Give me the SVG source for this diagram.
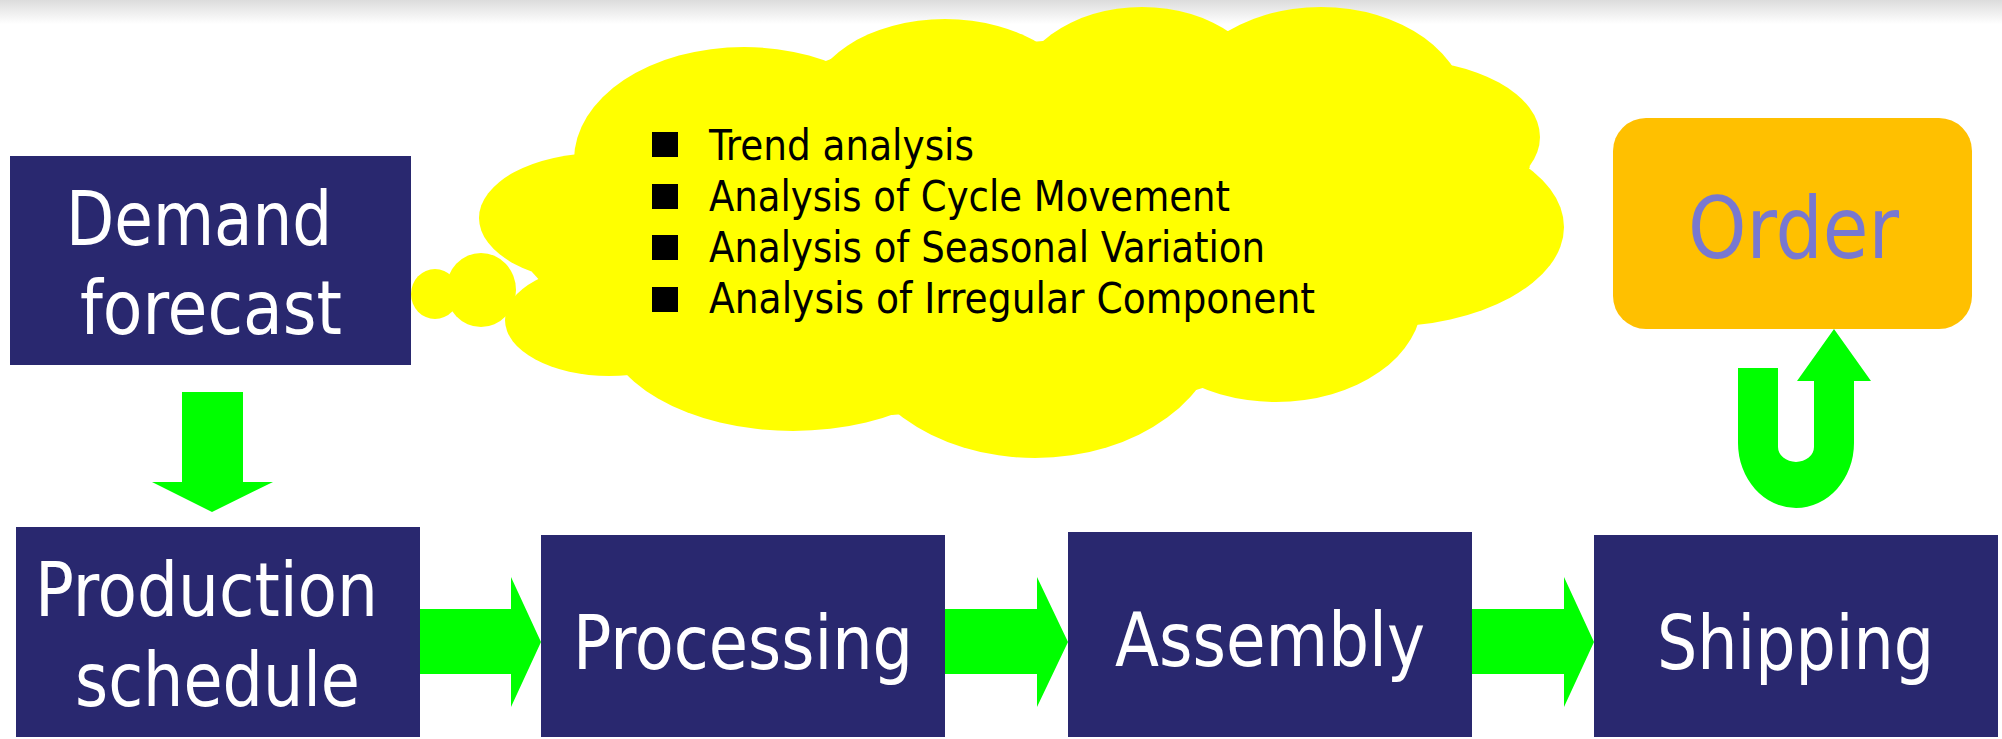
<svg xmlns="http://www.w3.org/2000/svg" width="2002" height="739" viewBox="0 0 2002 739">
<defs>
<linearGradient id="topband" x1="0" y1="0" x2="0" y2="1">
<stop offset="0" stop-color="#dcdcdc"/>
<stop offset="1" stop-color="#ffffff"/>
</linearGradient>
<style>
.box{fill:#29286f}
.lbl{font-family:"DejaVu Sans Condensed","DejaVu Sans",sans-serif;font-size:75px;fill:#ffffff}
.bul{font-family:"DejaVu Sans Condensed","DejaVu Sans",sans-serif;font-size:43px;fill:#000000}
.cloud{fill:#ffff00}
.arrow{fill:#00ff00}
</style>
</defs>
<rect x="0" y="0" width="2002" height="739" fill="#ffffff"/>
<rect x="0" y="0" width="2002" height="24" fill="url(#topband)"/>

<g id="cloud" class="cloud">
<ellipse cx="435" cy="294" rx="24" ry="25"/>
<ellipse cx="481" cy="290" rx="35" ry="37"/>
<polygon points="532,272 576,157 831,59 1043,41 1228,31 1441,63 1530,167 1419,321 1196,390 892,415 624,373"/>
<ellipse cx="600" cy="218" rx="121" ry="65"/>
<ellipse cx="744" cy="160" rx="170" ry="113"/>
<ellipse cx="945" cy="110" rx="138" ry="91"/>
<ellipse cx="1142" cy="100" rx="128" ry="93"/>
<ellipse cx="1321" cy="112" rx="146" ry="105"/>
<ellipse cx="1400" cy="137" rx="140" ry="77"/>
<ellipse cx="1380" cy="227" rx="184" ry="100"/>
<ellipse cx="1276" cy="300" rx="146" ry="102"/>
<ellipse cx="1035" cy="320" rx="187" ry="138"/>
<ellipse cx="793" cy="320" rx="191" ry="111"/>
<ellipse cx="609" cy="320" rx="104" ry="56"/>
<rect x="652" y="132" width="26" height="25" fill="#000"/>
<rect x="652" y="184" width="26" height="25" fill="#000"/>
<rect x="652" y="235" width="26" height="25" fill="#000"/>
<rect x="652" y="287" width="26" height="25" fill="#000"/>
<text class="bul" x="709" y="160" textLength="265" lengthAdjust="spacingAndGlyphs">Trend analysis</text>
<text class="bul" x="709" y="211" textLength="521" lengthAdjust="spacingAndGlyphs">Analysis of Cycle Movement</text>
<text class="bul" x="709" y="262" textLength="556" lengthAdjust="spacingAndGlyphs">Analysis of Seasonal Variation</text>
<text class="bul" x="709" y="313" textLength="606" lengthAdjust="spacingAndGlyphs">Analysis of Irregular Component</text>
</g>

<g id="connectors" class="arrow">
<polygon points="182,392 243,392 243,482 273,482 212,512 152,482 182,482"/>
<polygon points="420,609 511,609 511,577 541,642 511,707 511,674 420,674"/>
<polygon points="945,609 1037,609 1037,577 1068,642 1037,707 1037,674 945,674"/>
<polygon points="1472,609 1564,609 1564,577 1594,642 1564,707 1564,674 1472,674"/>
<path d="M1738,368 L1778,368 L1778,447 A18,15 0 0 0 1814,447 L1814,381 L1797,381 L1834,329 L1871,381 L1854,381 L1854,443 A58,65 0 0 1 1738,443 Z"/>
</g>

<g id="demand">
<rect class="box" x="10" y="156" width="401" height="209"/>
<text class="lbl" x="66" y="245" textLength="266" lengthAdjust="spacingAndGlyphs">Demand</text>
<text class="lbl" x="80" y="334" textLength="262" lengthAdjust="spacingAndGlyphs">forecast</text>
</g>

<g id="production">
<rect class="box" x="16" y="527" width="404" height="210"/>
<text class="lbl" x="35" y="616" textLength="343" lengthAdjust="spacingAndGlyphs">Production</text>
<text class="lbl" x="75" y="706" textLength="285" lengthAdjust="spacingAndGlyphs">schedule</text>
</g>

<g id="processing">
<rect class="box" x="541" y="535" width="404" height="202"/>
<text class="lbl" x="573" y="669" textLength="340" lengthAdjust="spacingAndGlyphs">Processing</text>
</g>

<g id="assembly">
<rect class="box" x="1068" y="532" width="404" height="205"/>
<text class="lbl" x="1115" y="666" textLength="310" lengthAdjust="spacingAndGlyphs">Assembly</text>
</g>

<g id="shipping">
<rect class="box" x="1594" y="535" width="404" height="202"/>
<text class="lbl" x="1657" y="669" textLength="277" lengthAdjust="spacingAndGlyphs">Shipping</text>
</g>

<g id="order">
<rect x="1613" y="118" width="359" height="211" rx="33" ry="33" fill="#ffc000"/>
<text x="1688" y="258" textLength="211" lengthAdjust="spacingAndGlyphs" style="font-family:'DejaVu Sans Condensed','DejaVu Sans',sans-serif;font-size:86px;fill:#7878d0">Order</text>
</g>
</svg>
